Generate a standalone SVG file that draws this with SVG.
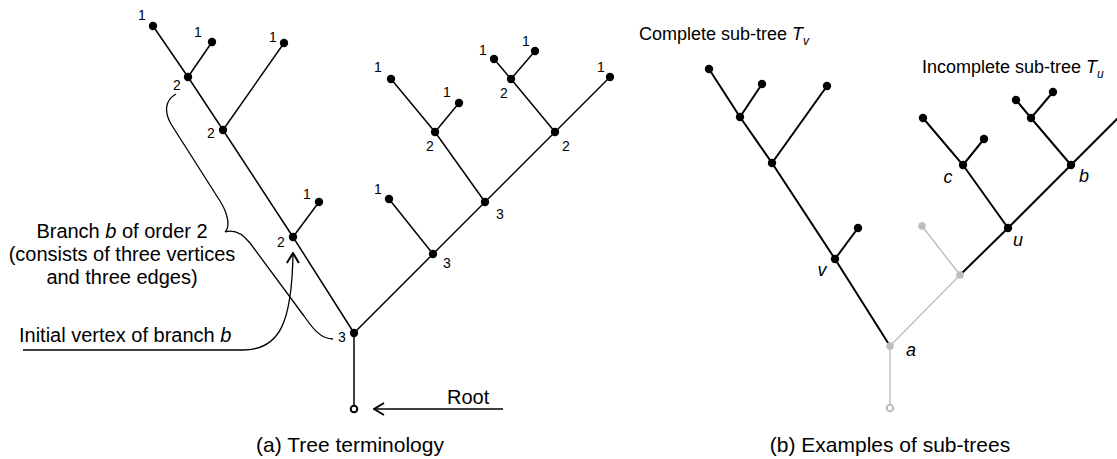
<svg xmlns="http://www.w3.org/2000/svg" width="1117" height="459" viewBox="0 0 1117 459">
<defs>
<style>
text{font-family:"Liberation Sans",Arial,sans-serif;fill:#000}
.num{font-size:14px;text-anchor:middle}
.lbl{font-size:20px;text-anchor:middle}
.cap{font-size:21px;text-anchor:middle}
.sub{font-size:18px}
.it{font-style:italic}
.var{font-size:18px;font-style:italic;text-anchor:middle}
.e{stroke:#000;stroke-width:1.5;fill:none}
.eb{stroke:#000;stroke-width:2;fill:none}
.eg{stroke:#bdbdbd;stroke-width:1.4;fill:none}
.d{fill:#000}
.dg{fill:#bdbdbd}
.ann{stroke:#000;stroke-width:1.3;fill:none}
</style>
<marker id="chev" viewBox="0 0 12 14" refX="11" refY="7" markerWidth="12" markerHeight="14" markerUnits="userSpaceOnUse" orient="auto">
<path d="M1,1 L11,7 L1,13" fill="none" stroke="#000" stroke-width="2"/>
</marker>
</defs>

<g id="connectors">
<!-- left tree -->
<path class="e" d="M354,409 L354,333"/>
<path class="e" d="M354,333 L293,237 L223,130 L188,77 L153,26"/>
<path class="e" d="M293,237 L319,202"/>
<path class="e" d="M188,77 L212,42"/>
<path class="e" d="M223,130 L284,43"/>
<path class="e" d="M354,333 L433,254 L485,202 L555,132 L610,77"/>
<path class="e" d="M433,254 L389,199"/>
<path class="e" d="M485,202 L435,132 L391,79"/>
<path class="e" d="M435,132 L459,103"/>
<path class="e" d="M555,132 L511,79 L494,59"/>
<path class="e" d="M511,79 L535,51"/>
<!-- right tree -->
<path class="eg" d="M890,346 L890,408"/>
<path class="eg" d="M890,346 L960,275 L922,226"/>
<path class="eb" d="M709,69 L740,117 L772,163 L835,259 L890,346"/>
<path class="eb" d="M740,117 L762,84"/>
<path class="eb" d="M772,163 L827,86"/>
<path class="eb" d="M835,259 L858,228"/>
<path class="eb" d="M960,275 L1008,228 L1071,165 L1126,110"/>
<path class="eb" d="M1008,228 L963,165 L923,118"/>
<path class="eb" d="M963,165 L984,139"/>
<path class="eb" d="M1071,165 L1031,118 L1016,100"/>
<path class="eb" d="M1031,118 L1053,92"/>
<!-- annotations -->
<path id="brace" class="ann" d="M176,94 C165,100 164,112 171,124 L220,201 C227,212 231,226 225,232 C234,229 242,233 250,243 L304,316 C313,329 321,339 333,339"/>
<path id="initial-arrow" class="ann" d="M23,350 L243,350 C280,350 292,322 293,253" marker-end="url(#chev)"/>
<path id="root-arrow" class="ann" d="M503,409 L374,409" marker-end="url(#chev)"/>
</g>

<g id="left-nodes">
<g id="l-root"><circle cx="354" cy="409" r="3.3" fill="#fff" stroke="#000" stroke-width="2"/></g>
<g id="l-n3"><circle class="d" cx="354" cy="333" r="4.2"/><text class="num" x="342" y="342">3</text></g>
<g id="l-b2"><circle class="d" cx="293" cy="237" r="4.2"/><text class="num" x="281" y="247">2</text></g>
<g id="l-b2leaf"><circle class="d" cx="319" cy="202" r="4.2"/><text class="num" x="307" y="199">1</text></g>
<g id="l-N2"><circle class="d" cx="223" cy="130" r="4.2"/><text class="num" x="211" y="138">2</text></g>
<g id="l-N1"><circle class="d" cx="188" cy="77" r="4.2"/><text class="num" x="177" y="90">2</text></g>
<g id="l-leafA"><circle class="d" cx="153" cy="26" r="4.2"/><text class="num" x="142" y="20">1</text></g>
<g id="l-leafB"><circle class="d" cx="212" cy="42" r="4.2"/><text class="num" x="198" y="37">1</text></g>
<g id="l-leafC"><circle class="d" cx="284" cy="43" r="4.2"/><text class="num" x="273" y="42">1</text></g>
<g id="l-m1"><circle class="d" cx="433" cy="254" r="4.2"/><text class="num" x="447" y="268">3</text></g>
<g id="l-m1leaf"><circle class="d" cx="389" cy="199" r="4.2"/><text class="num" x="378" y="194">1</text></g>
<g id="l-m2"><circle class="d" cx="485" cy="202" r="4.2"/><text class="num" x="500" y="219">3</text></g>
<g id="l-p1"><circle class="d" cx="435" cy="132" r="4.2"/><text class="num" x="430" y="151">2</text></g>
<g id="l-p1leafA"><circle class="d" cx="391" cy="79" r="4.2"/><text class="num" x="378" y="72">1</text></g>
<g id="l-p1leafB"><circle class="d" cx="459" cy="103" r="4.2"/><text class="num" x="447" y="97">1</text></g>
<g id="l-m3"><circle class="d" cx="555" cy="132" r="4.2"/><text class="num" x="566" y="151">2</text></g>
<g id="l-m3leaf"><circle class="d" cx="610" cy="77" r="4.2"/><text class="num" x="601" y="72">1</text></g>
<g id="l-p2"><circle class="d" cx="511" cy="79" r="4.2"/><text class="num" x="504" y="98">2</text></g>
<g id="l-p2leafA"><circle class="d" cx="494" cy="59" r="4.2"/><text class="num" x="483" y="55">1</text></g>
<g id="l-p2leafB"><circle class="d" cx="535" cy="51" r="4.2"/><text class="num" x="526" y="46">1</text></g>
</g>

<g id="right-nodes">
<g id="r-root"><circle cx="890" cy="408" r="3.3" fill="#fff" stroke="#bdbdbd" stroke-width="2"/></g>
<g id="r-a"><circle class="dg" cx="890" cy="346" r="3.8"/><text class="var" x="911" y="356">a</text></g>
<g id="r-g1"><circle class="dg" cx="960" cy="275" r="3.8"/></g>
<g id="r-gleaf"><circle class="dg" cx="922" cy="226" r="3.8"/></g>
<g id="r-v"><circle class="d" cx="835" cy="259" r="4.2"/><text class="var" x="822" y="276">v</text></g>
<g id="r-vleaf"><circle class="d" cx="858" cy="228" r="4.2"/></g>
<g id="r-r2"><circle class="d" cx="772" cy="163" r="4.2"/></g>
<g id="r-r2leaf"><circle class="d" cx="827" cy="86" r="4.2"/></g>
<g id="r-r1"><circle class="d" cx="740" cy="117" r="4.2"/></g>
<g id="r-r1leafA"><circle class="d" cx="709" cy="69" r="4.2"/></g>
<g id="r-r1leafB"><circle class="d" cx="762" cy="84" r="4.2"/></g>
<g id="r-u"><circle class="d" cx="1008" cy="228" r="4.2"/><text class="var" x="1018" y="246">u</text></g>
<g id="r-c"><circle class="d" cx="963" cy="165" r="4.2"/><text class="var" x="948" y="183">c</text></g>
<g id="r-cleafA"><circle class="d" cx="923" cy="118" r="4.2"/></g>
<g id="r-cleafB"><circle class="d" cx="984" cy="139" r="4.2"/></g>
<g id="r-b"><circle class="d" cx="1071" cy="165" r="4.2"/><text class="var" x="1084" y="182">b</text></g>
<g id="r-q"><circle class="d" cx="1031" cy="118" r="4.2"/></g>
<g id="r-qleafA"><circle class="d" cx="1016" cy="100" r="4.2"/></g>
<g id="r-qleafB"><circle class="d" cx="1053" cy="92" r="4.2"/></g>
<g id="r-bleaf"><circle class="d" cx="1126" cy="110" r="4.2"/></g>
</g>

<g id="labels">
<text class="lbl" x="122" y="238">Branch <tspan class="it">b</tspan> of order 2</text>
<text class="lbl" x="122" y="261">(consists of three vertices</text>
<text class="lbl" x="122" y="284">and three edges)</text>
<text class="lbl" x="19" y="342" style="text-anchor:start">Initial vertex of branch <tspan class="it">b</tspan></text>
<text class="lbl" x="447" y="404" style="text-anchor:start">Root</text>
<text class="sub" x="639" y="40">Complete sub-tree <tspan class="it">T</tspan><tspan class="it" font-size="12" dy="5">v</tspan></text>
<text class="sub" x="922" y="73">Incomplete sub-tree <tspan class="it">T</tspan><tspan class="it" font-size="12" dy="5">u</tspan></text>
<text class="cap" x="350" y="452">(a) Tree terminology</text>
<text class="cap" x="890" y="452">(b) Examples of sub-trees</text>
</g>
</svg>
